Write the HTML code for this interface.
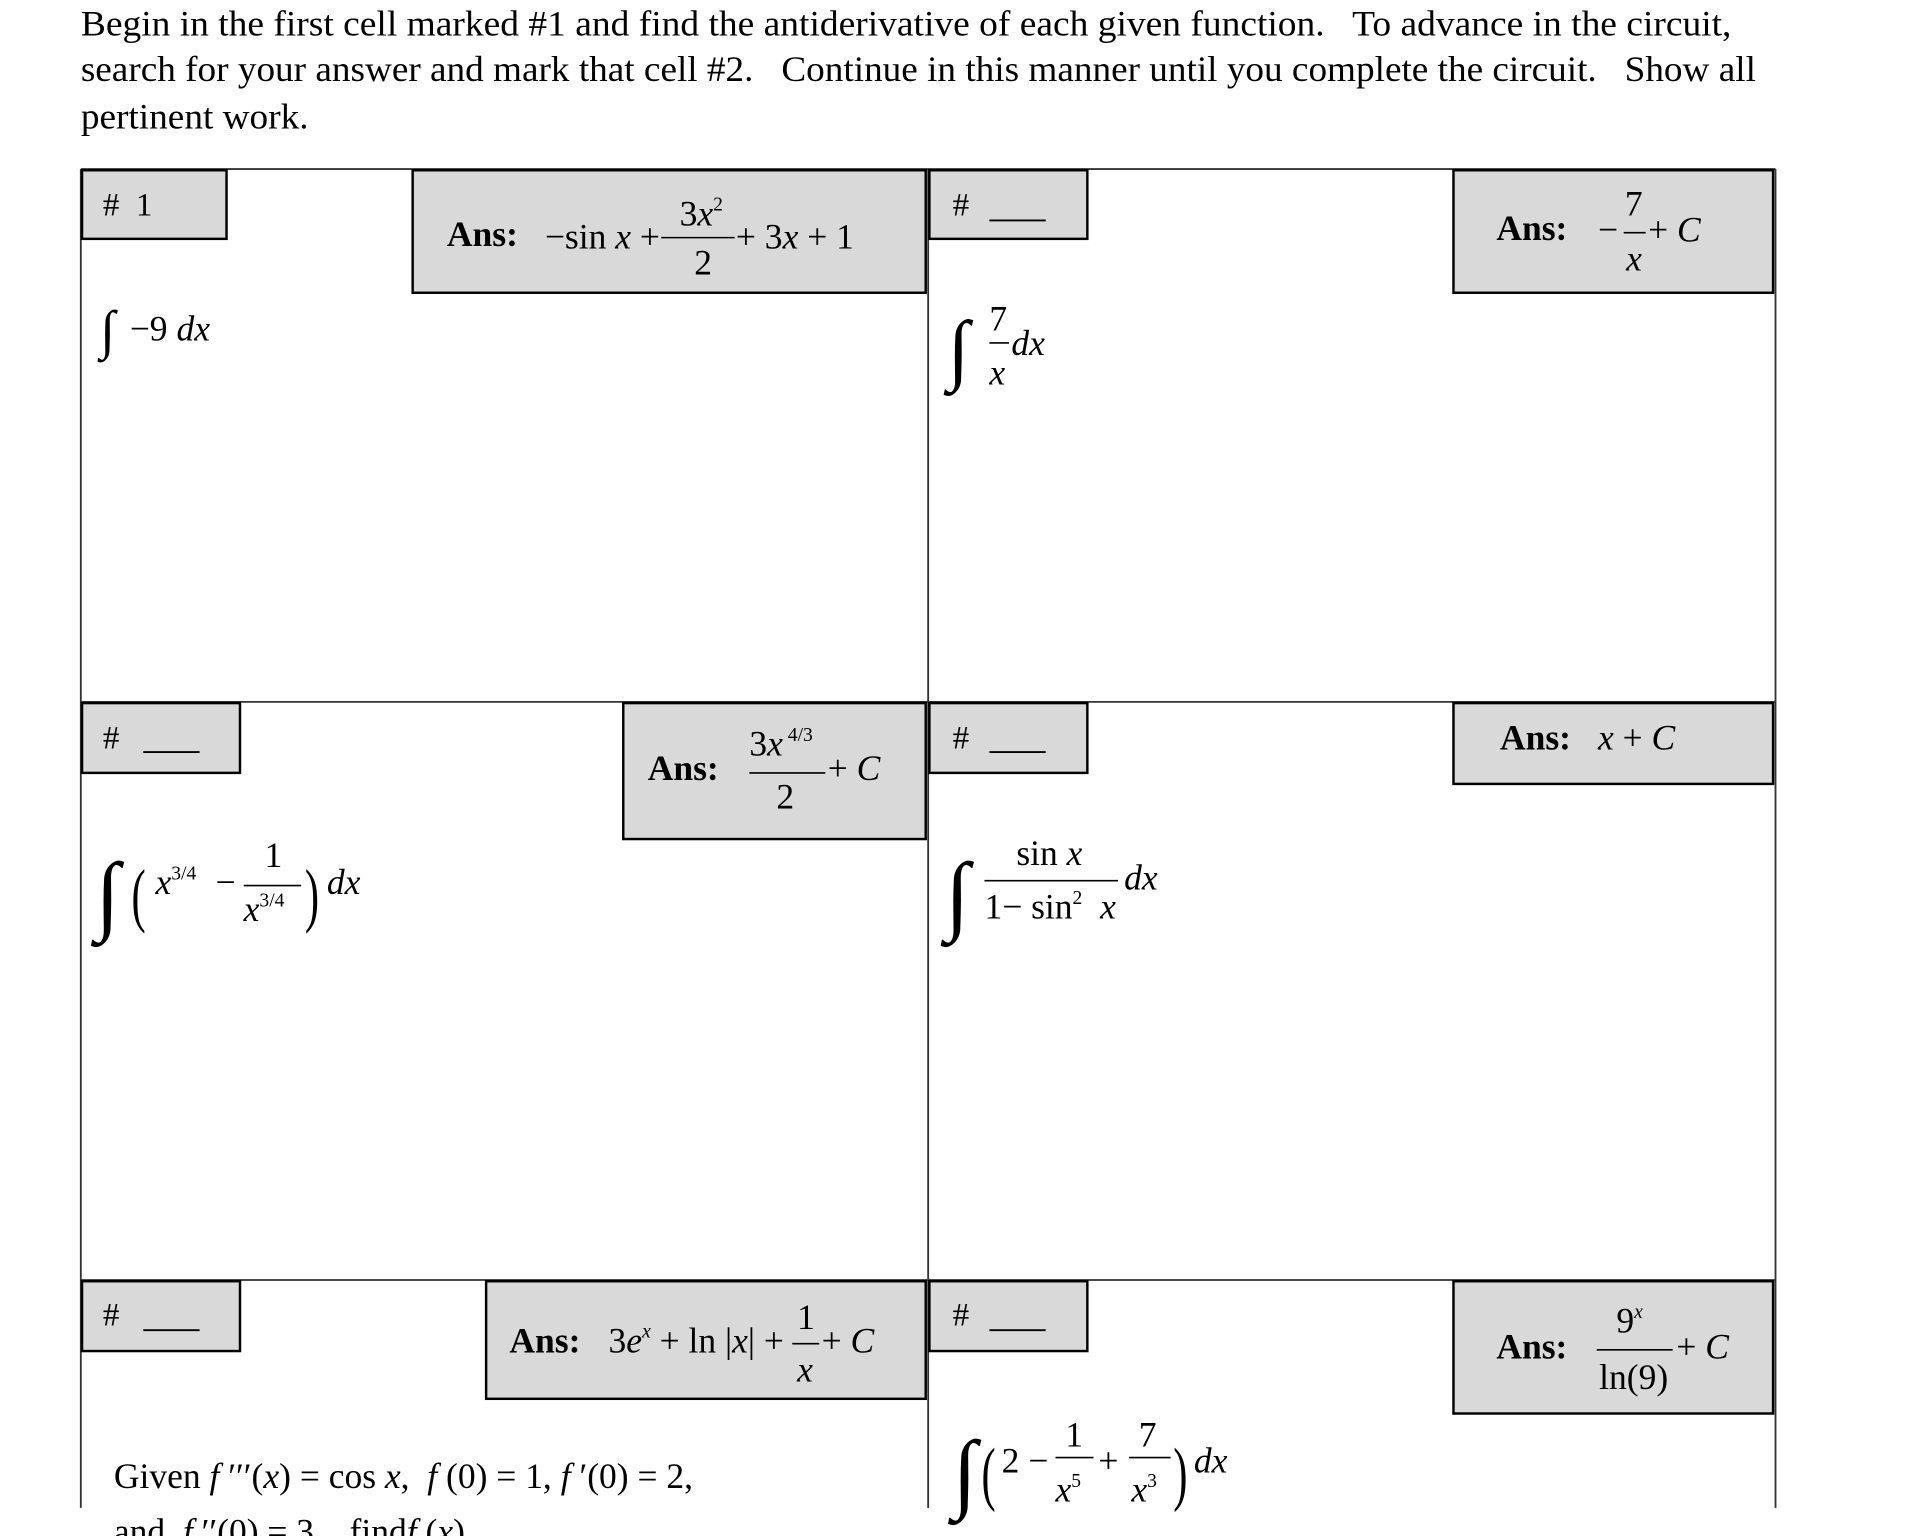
<!DOCTYPE html>
<html><head><meta charset="utf-8"><style>
html,body{margin:0;padding:0;background:#fff;width:1920px;height:1536px;overflow:hidden}
svg{display:block}
text{font-family:"Liberation Serif",serif;fill:#000;white-space:pre}
.i{font-style:italic}
.b{font-weight:bold}
</style></head><body>
<svg width="1920" height="1536" viewBox="0 0 1568 1254" preserveAspectRatio="none" xmlns="http://www.w3.org/2000/svg" xml:space="preserve">
<g font-size="29">
<text x="66" y="29" textLength="1348" lengthAdjust="spacingAndGlyphs">Begin in the first cell marked #1 and find the antiderivative of each given function.   To advance in the circuit,</text>
<text x="66" y="66" textLength="1368" lengthAdjust="spacingAndGlyphs">search for your answer and mark that cell #2.   Continue in this manner until you complete the circuit.   Show all</text>
<text x="66" y="105" textLength="186" lengthAdjust="spacingAndGlyphs">pertinent work.</text>
</g>
<g stroke="#333" stroke-width="1.5" fill="none">
<line x1="66" y1="138" x2="1450" y2="138"/>
<line x1="66" y1="573" x2="1450" y2="573"/>
<line x1="66" y1="1045" x2="1450" y2="1045"/>
<line x1="66" y1="138" x2="66" y2="1231"/>
<line x1="758" y1="138" x2="758" y2="1231"/>
<line x1="1450" y1="138" x2="1450" y2="1231"/>
</g>
<g fill="#d9d9d9" stroke="#000" stroke-width="2">
<rect x="67" y="139" width="118" height="56"/>
<rect x="337" y="139" width="419" height="100"/>
<rect x="759" y="139" width="129" height="56"/>
<rect x="1187" y="139" width="261" height="100"/>
<rect x="67" y="574" width="129" height="57"/>
<rect x="509" y="574" width="247" height="111"/>
<rect x="759" y="574" width="129" height="57"/>
<rect x="1187" y="574" width="261" height="66"/>
<rect x="67" y="1046" width="129" height="57"/>
<rect x="397" y="1046" width="359" height="96"/>
<rect x="759" y="1046" width="129" height="57"/>
<rect x="1187" y="1046" width="261" height="108"/>
</g>
<g font-size="27">
<text x="84" y="176">#  1</text>
<text x="778" y="176">#</text><line x1="808" y1="180" x2="854" y2="180" stroke="#000" stroke-width="1.5"/>
<text x="84" y="611">#</text><line x1="117" y1="614" x2="163" y2="614" stroke="#000" stroke-width="1.5"/>
<text x="778" y="611">#</text><line x1="808" y1="614" x2="854" y2="614" stroke="#000" stroke-width="1.5"/>
<text x="84" y="1082">#</text><line x1="117" y1="1086" x2="163" y2="1086" stroke="#000" stroke-width="1.5"/>
<text x="778" y="1082">#</text><line x1="808" y1="1086" x2="854" y2="1086" stroke="#000" stroke-width="1.5"/>
</g>
<g font-size="28" stroke="#000" stroke-width="1.3">
<line x1="540" y1="194" x2="600" y2="194"/>
<line x1="1326" y1="190" x2="1344" y2="190"/>
<line x1="612" y1="631" x2="674" y2="631"/>
<line x1="647" y1="1097" x2="669" y2="1097"/>
<line x1="1304" y1="1102" x2="1366" y2="1102"/>
<line x1="808" y1="280" x2="824" y2="280"/>
<line x1="199" y1="723" x2="246" y2="723"/>
<line x1="804" y1="719" x2="913" y2="719"/>
<line x1="862" y1="1190" x2="893" y2="1190"/>
<line x1="922" y1="1190" x2="956" y2="1190"/>
</g>
<g font-size="29">
<text x="365" y="201" class="b">Ans:</text>
<text x="445" y="203">−sin <tspan class="i">x</tspan> +</text>
<text x="555" y="184">3<tspan class="i">x</tspan><tspan font-size="16" dy="-12">2</tspan></text>
<text x="567" y="224">2</text>
<text x="601" y="203">+ 3<tspan class="i">x</tspan> + 1</text>

<text x="1222" y="196" class="b">Ans:</text>
<text x="1327" y="176">7</text>
<text x="1305" y="197">−</text><text x="1346" y="197">+ <tspan class="i">C</tspan></text>
<text x="1328" y="221" class="i">x</text>

<text x="529" y="637" class="b">Ans:</text>
<text x="612" y="617">3<tspan class="i">x</tspan><tspan font-size="16" dy="-12"> 4/3</tspan></text>
<text x="634" y="660">2</text>
<text x="676" y="637">+ <tspan class="i">C</tspan></text>

<text x="1225" y="612" class="b">Ans:</text>
<text x="1305" y="612"><tspan class="i">x</tspan> + <tspan class="i">C</tspan></text>

<text x="416" y="1104" class="b">Ans:</text>
<text x="497" y="1104">3<tspan class="i">e</tspan><tspan font-size="16" dy="-12" class="i">x</tspan><tspan dy="12"> + ln |</tspan><tspan class="i">x</tspan>| +</text>
<text x="651" y="1085">1</text>
<text x="651" y="1128" class="i">x</text>
<text x="671" y="1104">+ <tspan class="i">C</tspan></text>

<text x="1222" y="1109" class="b">Ans:</text>
<text x="1320" y="1088">9<tspan font-size="16" dy="-12" class="i">x</tspan></text>
<text x="1306" y="1134">ln(9)</text>
<text x="1369" y="1109">+ <tspan class="i">C</tspan></text>

<text x="82" y="284" font-size="44">∫</text><text x="106" y="278">−9 <tspan class="i">dx</tspan></text>

<text x="774" y="306" font-size="64">∫</text>
<text x="808" y="270">7</text><text x="808" y="314" class="i">x</text>
<text x="826" y="290" class="i">dx</text>

<text x="78" y="754" font-size="72">∫</text>
<text x="104" y="750" font-size="58" transform="scale(0.6,1) translate(75,0)">(</text>
<text x="127" y="730"><tspan class="i">x</tspan><tspan font-size="16" dy="-12">3/4</tspan></text>
<text x="176" y="730">−</text>
<text x="216" y="708">1</text>
<text x="199" y="752"><tspan class="i">x</tspan><tspan font-size="16" dy="-12">3/4</tspan></text>
<text x="247" y="750" font-size="58" transform="scale(0.6,1) translate(168,0)">)</text>
<text x="267" y="730" class="i">dx</text>

<text x="772" y="754" font-size="72">∫</text>
<text x="830" y="706">sin <tspan class="i">x</tspan></text>
<text x="804" y="750">1− sin<tspan font-size="16" dy="-12">2</tspan><tspan dy="12">  </tspan><tspan class="i">x</tspan></text>
<text x="918" y="726" class="i">dx</text>

<text x="778" y="1226" font-size="72">∫</text>
<text x="800" y="1222" font-size="58" transform="scale(0.6,1) translate(536,0)">(</text>
<text x="818" y="1202">2 −</text>
<text x="870" y="1181">1</text>
<text x="862" y="1226"><tspan class="i">x</tspan><tspan font-size="16" dy="-12">5</tspan></text>
<text x="897" y="1202">+</text>
<text x="930" y="1181">7</text>
<text x="924" y="1226"><tspan class="i">x</tspan><tspan font-size="16" dy="-12">3</tspan></text>
<text x="957" y="1222" font-size="58" transform="scale(0.6,1) translate(640,0)">)</text>
<text x="975" y="1202" class="i">dx</text>

<text x="93" y="1215">Given <tspan class="i">f</tspan> ′′′(<tspan class="i">x</tspan>) = cos <tspan class="i">x</tspan>,  <tspan class="i">f</tspan> (0) = 1, <tspan class="i">f</tspan> ′(0) = 2,</text>
<text x="93" y="1260">and  <tspan class="i">f</tspan> ′′(0) = 3,   find<tspan class="i">f</tspan> (<tspan class="i">x</tspan>)</text>
</g>
</svg>
</body></html>
